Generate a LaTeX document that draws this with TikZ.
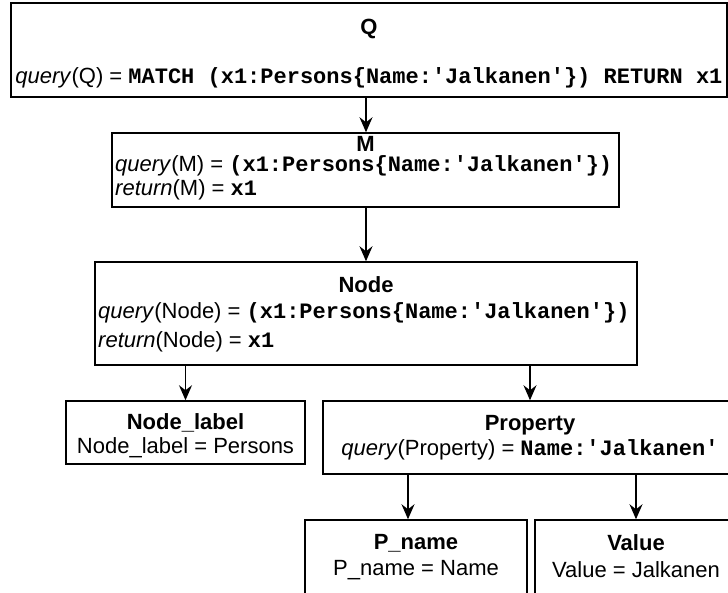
\documentclass[tikz,border=0pt]{standalone}
\usepackage{fontspec}
\setmainfont{Liberation Sans}
\newfontfamily\monof{Liberation Mono}
\usetikzlibrary{arrows.meta}
\newcommand\cd[1]{{\monof\bfseries #1}}
\tikzset{
  box/.style={draw=black, line width=1.5pt, fill=white, inner sep=0pt},
  txt/.style={inner sep=0pt, font=\fontsize{22}{26}\selectfont},
  arr/.style={line width=1.5pt, -{Stealth[length=15pt,width=13pt,inset=5pt]}}
}
\begin{document}
\frenchspacing
\begin{tikzpicture}[x=1pt,y=-1pt]
\useasboundingbox (0,0) rectangle (728,593);
\fill[white] (0,0) rectangle (728,593);
\clip (0,0) rectangle (728,593);
% boxes
\node[box, minimum width=716pt, minimum height=94pt] (Q) at (369,50) {};
\node[box, minimum width=507pt, minimum height=74pt] (M) at (365.5,170) {};
\node[box, minimum width=542pt, minimum height=103pt] (N) at (366,313.5) {};
\node[box, minimum width=239pt, minimum height=63pt] (NL) at (185.5,432.5) {};
\node[box, minimum width=414pt, minimum height=73pt] (P) at (530,437.5) {};
\node[box, minimum width=222pt, minimum height=90pt] (PN) at (416,565) {};
\node[box, minimum width=202pt, minimum height=90pt] (V) at (636,565) {};
% texts
\node[txt] (Qt) at (369,29) {\textbf{Q}};
\node[txt] (Qq) at (369,78) {\textit{query}(Q) = \cd{MATCH (x1:Persons\{Name:'Jalkanen'\}) RETURN x1}};
\node[txt] (Mt) at (365.5,144) {\textbf{M}};
\node[txt, anchor=west] (Mq) at (115,166) {\textit{query}(M) = \cd{(x1:Persons\{Name:'Jalkanen'\})}};
\node[txt, anchor=west] (Mr) at (115,190) {\textit{return}(M) = \cd{x1}};
\node[txt] (Nt) at (366,285) {\textbf{Node}};
\node[txt, anchor=west] (Nq) at (98,313) {\textit{query}(Node) = \cd{(x1:Persons\{Name:'Jalkanen'\})}};
\node[txt, anchor=west] (Nr) at (98,342) {\textit{return}(Node) = \cd{x1}};
\node[txt] (NLt) at (185.5,423) {\textbf{Node\_label}};
\node[txt] (NLv) at (185.5,448) {Node\_label = Persons};
\node[txt] (Pt) at (530,425) {\textbf{Property}};
\node[txt] (Pq) at (530,450) {\textit{query}(Property) = \cd{Name:'Jalkanen'}};
\node[txt] (PNt) at (416,543) {\textbf{P\_name}};
\node[txt] (PNv) at (416,570) {P\_name = Name};
\node[txt] (Vt) at (636,543) {\textbf{Value}};
\node[txt] (Vv) at (636,570) {Value = Jalkanen};
% connectors
\coordinate (pnx) at (408,0);
\coordinate (cx) at (366,0);
\draw[arr] (Q.south -| cx) -- (M.north -| cx);
\draw[arr] (M.south -| cx) -- (N.north -| cx);
\draw[arr] (N.south -| NL.north) -- (NL.north);
\draw[arr] (N.south -| P.north) -- (P.north);
\draw[arr] (P.south -| pnx) -- (PN.north -| pnx);
\draw[arr] (P.south -| V.north) -- (V.north);
\end{tikzpicture}
\end{document}
